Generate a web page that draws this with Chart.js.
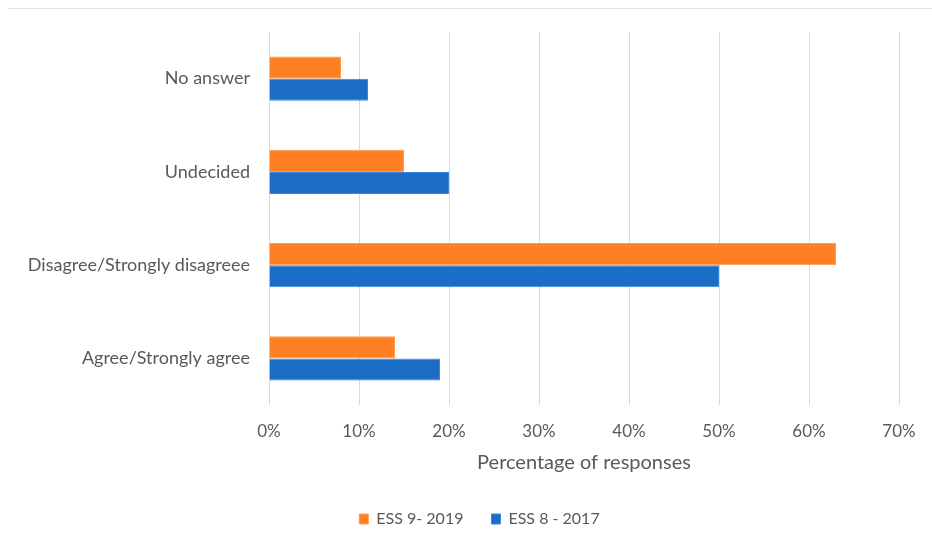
<!DOCTYPE html>
<html>
<head>
<meta charset="utf-8">
<script src="https://cdn.jsdelivr.net/npm/chart.js@4"></script>
<style>
  body { margin: 0; background: #fff; }
  #wrap { position: relative; width: 932px; height: 546px; }
  #topline { position: absolute; left: 8px; top: 8px; width: 924px; height: 1px; background: #e4e4e4; }
</style>
</head>
<body>
<div id="wrap">
  <div id="topline"></div>
  <canvas id="chart" width="932" height="546"></canvas>
</div>
<script>
const categories = ['No answer', 'Undecided', 'Disagree/Strongly disagreee', 'Agree/Strongly agree']
const ess2019 = [8, 15, 63, 14]
const ess2017 = [11, 20, 50, 19]
const xTicks = [0, 10, 20, 30, 40, 50, 60, 70]

const TEXT = '#595959'
const FONT = 'Lato, "Open Sans", sans-serif'

Chart.defaults.font.family = FONT
Chart.defaults.color = TEXT

// nudge the legend so it sits centred under the plot instead of the whole canvas
const legendShift = {
  id: 'legendShift',
  afterLayout(chart) {
    chart.legend.left += 60
  }
}

new Chart(document.getElementById('chart'), {
  type: 'bar',
  data: {
    labels: categories,
    datasets: [
      { label: 'ESS 9- 2019', data: ess2019, backgroundColor: '#fe7f24', borderColor: '#ff9a4f', borderWidth: 1 },
      { label: 'ESS 8 - 2017', data: ess2017, backgroundColor: '#1b6dc6', borderColor: '#3a85d6', borderWidth: 1 }
    ]
  },
  options: {
    indexAxis: 'y',
    responsive: false,
    animation: false,
    categoryPercentage: 0.476,
    barPercentage: 1,
    layout: { padding: { top: 32, right: 33, bottom: 9, left: 0 } },
    plugins: {
      tooltip: { enabled: false },
      legend: {
        position: 'bottom',
        labels: {
          boxWidth: 9,
          boxHeight: 10,
          padding: 28,
          font: { size: 16 }
        }
      }
    },
    scales: {
      x: {
        min: 0,
        max: 70,
        afterBuildTicks: scale => { scale.ticks = xTicks.map(v => ({ value: v })) },
        afterFit: scale => { scale.height = 78 },
        grid: { color: '#d9d9d9', drawTicks: false },
        border: { display: false },
        ticks: { padding: 16, font: { size: 17 }, callback: v => v + '%' },
        title: { display: true, text: 'Percentage of responses', font: { size: 20 }, padding: { top: 10, bottom: 8 } }
      },
      y: {
        afterFit: scale => { scale.width = 269 },
        grid: { display: false },
        border: { display: false },
        ticks: { padding: 11, font: { size: 18 } }
      }
    }
  },
  plugins: [legendShift]
})
</script>
</body>
</html>
